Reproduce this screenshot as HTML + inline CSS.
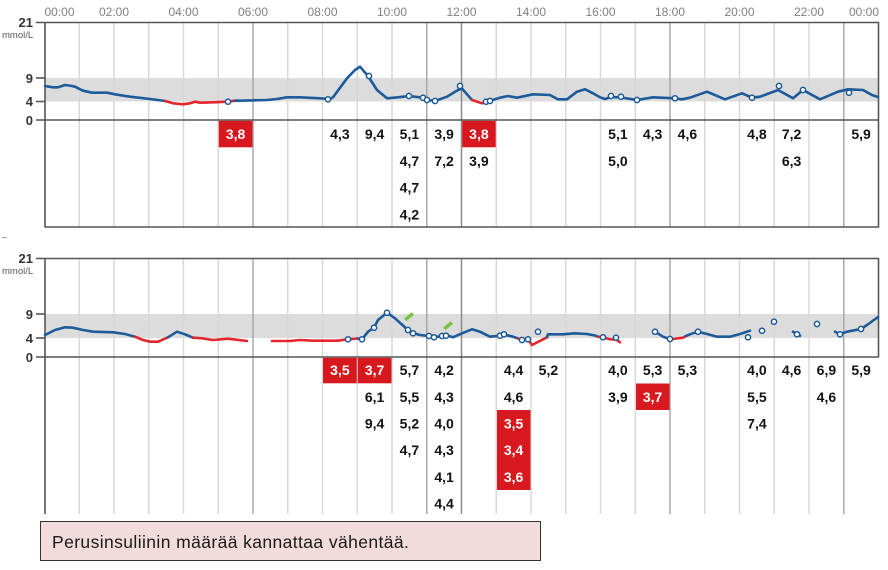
<!DOCTYPE html>
<html>
<head>
<meta charset="utf-8">
<style>
html,body{margin:0;padding:0;background:#fff;}
body{width:888px;height:570px;overflow:hidden;}
svg{display:block;font-family:"Liberation Sans",Arial,sans-serif;}
.t{font-size:12px;fill:#808080;}
.yl{font-size:13px;font-weight:bold;fill:#333;}
.mm{font-size:9.5px;fill:#555;}
.v{font-size:14px;font-weight:bold;fill:#111;text-anchor:middle;}
.vr{font-size:14px;font-weight:bold;fill:#fff;text-anchor:middle;}
.gl{stroke:#d8d8d8;stroke-width:1.5;}
.gd{stroke:#a8a8a8;stroke-width:1.5;}
.ax{stroke:#555;stroke-width:1.6;fill:none;}
.b{fill:none;stroke:#1d5a99;stroke-width:2.6;stroke-linejoin:round;stroke-linecap:round;}
.r{fill:none;stroke:#e3262d;stroke-width:2.6;stroke-linejoin:round;stroke-linecap:round;}
.c{fill:#fff;stroke:#1d5a99;stroke-width:1.5;}
.rb{fill:#d7181f;}
</style>
</head>
<body>
<svg width="888" height="570" viewBox="0 0 888 570" xmlns="http://www.w3.org/2000/svg">
<rect x="0" y="0" width="888" height="570" fill="#fff"/>

<!-- ============ TOP CHART ============ -->
<!-- time labels -->
<text class="t" x="44.5" y="16" text-anchor="start">00:00</text>
<text class="t" x="114" y="16" text-anchor="middle">02:00</text>
<text class="t" x="183.5" y="16" text-anchor="middle">04:00</text>
<text class="t" x="253" y="16" text-anchor="middle">06:00</text>
<text class="t" x="322.5" y="16" text-anchor="middle">08:00</text>
<text class="t" x="392" y="16" text-anchor="middle">10:00</text>
<text class="t" x="461.5" y="16" text-anchor="middle">12:00</text>
<text class="t" x="531" y="16" text-anchor="middle">14:00</text>
<text class="t" x="600.5" y="16" text-anchor="middle">16:00</text>
<text class="t" x="670" y="16" text-anchor="middle">18:00</text>
<text class="t" x="739.5" y="16" text-anchor="middle">20:00</text>
<text class="t" x="809" y="16" text-anchor="middle">22:00</text>
<text class="t" x="879" y="16" text-anchor="end">00:00</text>

<!-- band -->
<rect x="45" y="78" width="833.5" height="23.5" fill="#dcdcdc"/>

<!-- gridlines top -->
<g>
<line class="gl" x1="79.25" y1="22" x2="79.25" y2="227"/>
<line class="gl" x1="114" y1="22" x2="114" y2="227"/>
<line class="gl" x1="148.75" y1="22" x2="148.75" y2="227"/>
<line class="gl" x1="183.5" y1="22" x2="183.5" y2="227"/>
<line class="gl" x1="218.25" y1="22" x2="218.25" y2="227"/>
<line class="gd" x1="253" y1="22" x2="253" y2="227"/>
<line class="gl" x1="287.75" y1="22" x2="287.75" y2="227"/>
<line class="gl" x1="322.5" y1="22" x2="322.5" y2="227"/>
<line class="gl" x1="357.25" y1="22" x2="357.25" y2="227"/>
<line class="gl" x1="392" y1="22" x2="392" y2="227"/>
<line class="gd" x1="426.75" y1="22" x2="426.75" y2="227"/>
<line class="gd" x1="461.5" y1="22" x2="461.5" y2="227" style="stroke:#8a8a8a"/>
<line class="gl" x1="496.25" y1="22" x2="496.25" y2="227"/>
<line class="gl" x1="531" y1="22" x2="531" y2="227"/>
<line class="gl" x1="565.75" y1="22" x2="565.75" y2="227"/>
<line class="gl" x1="600.5" y1="22" x2="600.5" y2="227"/>
<line class="gl" x1="635.25" y1="22" x2="635.25" y2="227"/>
<line class="gd" x1="670" y1="22" x2="670" y2="227"/>
<line class="gl" x1="704.75" y1="22" x2="704.75" y2="227"/>
<line class="gl" x1="739.5" y1="22" x2="739.5" y2="227"/>
<line class="gl" x1="774.25" y1="22" x2="774.25" y2="227"/>
<line class="gl" x1="809" y1="22" x2="809" y2="227"/>
<line class="gd" x1="843.75" y1="22" x2="843.75" y2="227"/>
</g>

<!-- axes/frame top -->
<line class="ax" x1="36" y1="22.5" x2="879" y2="22.5"/>
<line class="ax" x1="45" y1="22" x2="45" y2="227.5"/>
<line class="ax" x1="878.5" y1="22" x2="878.5" y2="227.5"/>
<line class="ax" x1="36" y1="120" x2="879" y2="120"/>
<line class="ax" x1="45" y1="227" x2="879" y2="227"/>
<line class="ax" x1="36" y1="78" x2="45" y2="78"/>
<line class="ax" x1="36" y1="101.5" x2="45" y2="101.5"/>

<text class="yl" x="33" y="27" text-anchor="end">21</text>
<text class="mm" x="2" y="38">mmol/L</text>
<text class="yl" x="33" y="83" text-anchor="end">9</text>
<text class="yl" x="33" y="106" text-anchor="end">4</text>
<text class="yl" x="33" y="125" text-anchor="end">0</text>

<!-- top curve -->
<polyline class="b" points="45,86 53,87.3 58,87.3 65,85 72,86 75,86.7 83,90.7 92,92.7 107,92.7 115,94.3 130,96.7 150,99 165,101"/>
<polyline class="r" points="165,101 173,103.3 183,104.3 190,103.3 195,101.7 200,102.7 213,102.3 228,101.7 235,100.7"/>
<polyline class="b" points="235,100.7 240,100.7 267,100 277,99 287,97.3 300,97.3 320,98.3 330,99 333,97.3 347,78.3 355,70 360,66.7 368,76 377,90 387,98.3 398,97.3 409,96 423,97.7 427,100 435,101 447,96.7 458,90 462,88.5 467,94.3 472,100"/>
<polyline class="r" points="472,100 482,103.3 487,101.7 489,101"/>
<polyline class="b" points="489,101 500,97.7 508,96 517,97.7 533,94.3 550,95 558,99.3 567,99.3 577,91.7 585,89.3 593,93.3 600,97.3 605,99 611,97 621,97.5 637,100 653,97.3 675,98.3 682,99.3 690,97.7 707,91.7 725,99.3 742,93.3 752,97.7 760,96.7 778,90 793,98.3 803,90 820,99.3 838,91.7 848,89.3 863,90 872,95 878,97"/>
<g>
<circle class="c" cx="228" cy="101.7" r="2.6"/>
<circle class="c" cx="328" cy="99.3" r="2.6"/>
<circle class="c" cx="369" cy="76" r="2.6"/>
<circle class="c" cx="409" cy="96" r="2.6"/>
<circle class="c" cx="423" cy="97.7" r="2.6"/>
<circle class="c" cx="427" cy="100" r="2.6"/>
<circle class="c" cx="435" cy="101" r="2.6"/>
<circle class="c" cx="460" cy="86" r="2.6"/>
<circle class="c" cx="486" cy="101.7" r="2.6"/>
<circle class="c" cx="490" cy="101" r="2.6"/>
<circle class="c" cx="611" cy="96" r="2.6"/>
<circle class="c" cx="621" cy="96.7" r="2.6"/>
<circle class="c" cx="637" cy="100" r="2.6"/>
<circle class="c" cx="675" cy="98.3" r="2.6"/>
<circle class="c" cx="752" cy="97.7" r="2.6"/>
<circle class="c" cx="779" cy="86" r="2.6"/>
<circle class="c" cx="803" cy="90" r="2.6"/>
<circle class="c" cx="849" cy="92.7" r="2.6"/>
</g>

<!-- top table -->
<rect class="rb" x="218.75" y="120.8" width="33.75" height="26.5"/>
<rect class="rb" x="462.2" y="120.8" width="33.5" height="26.5"/>
<text class="vr" x="235.6" y="139">3,8</text>
<text class="v" x="339.9" y="139">4,3</text>
<text class="v" x="374.6" y="139">9,4</text>
<text class="v" x="409.4" y="139">5,1</text>
<text class="v" x="409.4" y="166">4,7</text>
<text class="v" x="409.4" y="192.5">4,7</text>
<text class="v" x="409.4" y="219.5">4,2</text>
<text class="v" x="444.1" y="139">3,9</text>
<text class="v" x="444.1" y="166">7,2</text>
<text class="vr" x="478.9" y="139">3,8</text>
<text class="v" x="478.9" y="166">3,9</text>
<text class="v" x="617.9" y="139">5,1</text>
<text class="v" x="617.9" y="166">5,0</text>
<text class="v" x="652.6" y="139">4,3</text>
<text class="v" x="687.4" y="139">4,6</text>
<text class="v" x="756.9" y="139">4,8</text>
<text class="v" x="791.6" y="139">7,2</text>
<text class="v" x="791.6" y="166">6,3</text>
<text class="v" x="861.1" y="139">5,9</text>

<line x1="2" y1="237.5" x2="7" y2="237.5" stroke="#aaa" stroke-width="1.2"/>

<!-- ============ BOTTOM CHART ============ -->
<rect x="45" y="314" width="833.5" height="24" fill="#dcdcdc"/>

<g>
<line class="gl" x1="79.25" y1="258" x2="79.25" y2="514"/>
<line class="gl" x1="114" y1="258" x2="114" y2="514"/>
<line class="gl" x1="148.75" y1="258" x2="148.75" y2="514"/>
<line class="gl" x1="183.5" y1="258" x2="183.5" y2="514"/>
<line class="gl" x1="218.25" y1="258" x2="218.25" y2="514"/>
<line class="gd" x1="253" y1="258" x2="253" y2="514"/>
<line class="gl" x1="287.75" y1="258" x2="287.75" y2="514"/>
<line class="gl" x1="322.5" y1="258" x2="322.5" y2="514"/>
<line class="gl" x1="357.25" y1="258" x2="357.25" y2="514"/>
<line class="gl" x1="392" y1="258" x2="392" y2="514"/>
<line class="gd" x1="426.75" y1="258" x2="426.75" y2="514"/>
<line class="gd" x1="461.5" y1="258" x2="461.5" y2="514" style="stroke:#8a8a8a"/>
<line class="gl" x1="496.25" y1="258" x2="496.25" y2="514"/>
<line class="gl" x1="531" y1="258" x2="531" y2="514"/>
<line class="gl" x1="565.75" y1="258" x2="565.75" y2="514"/>
<line class="gl" x1="600.5" y1="258" x2="600.5" y2="514"/>
<line class="gl" x1="635.25" y1="258" x2="635.25" y2="514"/>
<line class="gd" x1="670" y1="258" x2="670" y2="514"/>
<line class="gl" x1="704.75" y1="258" x2="704.75" y2="514"/>
<line class="gl" x1="739.5" y1="258" x2="739.5" y2="514"/>
<line class="gl" x1="774.25" y1="258" x2="774.25" y2="514"/>
<line class="gl" x1="809" y1="258" x2="809" y2="514"/>
<line class="gd" x1="843.75" y1="258" x2="843.75" y2="514"/>
</g>

<line class="ax" x1="36" y1="258.5" x2="879" y2="258.5"/>
<line class="ax" x1="45" y1="258" x2="45" y2="514"/>
<line class="ax" x1="878.5" y1="258" x2="878.5" y2="357"/>
<line class="ax" x1="36" y1="357" x2="879" y2="357"/>
<line class="ax" x1="36" y1="314" x2="45" y2="314"/>
<line class="ax" x1="36" y1="338" x2="45" y2="338"/>

<text class="yl" x="33" y="263" text-anchor="end">21</text>
<text class="mm" x="2" y="274">mmol/L</text>
<text class="yl" x="33" y="319" text-anchor="end">9</text>
<text class="yl" x="33" y="343" text-anchor="end">4</text>
<text class="yl" x="33" y="362" text-anchor="end">0</text>

<!-- bottom curve -->
<polyline class="b" points="45,335 55,330 65,327.3 73,327.7 83,330 93,331.7 113,332.3 125,334 135,336.7"/>
<polyline class="r" points="135,336.7 143,340 150,341.7 158,341.7 168,337.3"/>
<polyline class="b" points="168,337.3 177,331.7 185,334.3 193,337.7"/>
<polyline class="r" points="193,337.7 202,338.3 213,340 228,338.7 247,341"/>
<polyline class="r" points="272,341 290,341 300,340 313,340.7 337,340.7 348,339.3 358,338.5"/>
<polyline class="b" points="358,338.5 362,339.3 368,331.7 374,327.7 378,320 387,312.7 395,318.3 408,330 413,333 420,335 429,336 434,337.3 442,336 447,335.5 453,337.3 462,333.3 472,329.3 480,331.7 490,336.7 500,335.7 503,334.3 513,336.7 518,338.5"/>
<polyline class="r" points="518,338.5 522,340 528,339.3 532,345 547,337.3"/>
<polyline class="b" points="547,337.3 548,334.3 563,334.3 575,333.3 587,334 595,335.5 598,336.7"/>
<polyline class="r" points="598,336.7 603,337.5 610,339.3 616,339.5 620,342.3"/>
<polyline class="b" points="655,331.7 663,336.7 668,338.5"/>
<polyline class="r" points="668,338.5 673,339 683,337.7 686,336"/>
<polyline class="b" points="686,336 690,334.3 698,331.7 708,334.3 717,336.7 730,336.7 740,334 750,330.7"/>
<polyline class="b" points="793,331.7 800,335.7"/>
<polyline class="b" points="835,331.7 840,334.3 847,331.7 861,329 867,325 878,317"/>
<!-- green pencil icons -->
<g fill="#7ac143">
<rect x="404" y="315" width="10" height="3.5" transform="rotate(-40 409 316.7)"/>
<rect x="443" y="324" width="10" height="3.5" transform="rotate(-40 448 325.7)"/>
</g>
<g>
<circle class="c" cx="348" cy="339.3" r="2.6"/>
<circle class="c" cx="362" cy="339.3" r="2.6"/>
<circle class="c" cx="374" cy="327.7" r="2.6"/>
<circle class="c" cx="387" cy="312.7" r="2.6"/>
<circle class="c" cx="408" cy="330" r="2.6"/>
<circle class="c" cx="413" cy="333.3" r="2.6"/>
<circle class="c" cx="429" cy="336" r="2.6"/>
<circle class="c" cx="434" cy="337.3" r="2.6"/>
<circle class="c" cx="442" cy="336" r="2.6"/>
<circle class="c" cx="446" cy="335.7" r="2.6"/>
<circle class="c" cx="500" cy="335.7" r="2.6"/>
<circle class="c" cx="504" cy="334.3" r="2.6"/>
<circle class="c" cx="522" cy="340" r="2.6"/>
<circle class="c" cx="528" cy="339.3" r="2.6"/>
<circle class="c" cx="538" cy="331.7" r="2.6"/>
<circle class="c" cx="603" cy="337.3" r="2.6"/>
<circle class="c" cx="616" cy="337.7" r="2.6"/>
<circle class="c" cx="655" cy="331.7" r="2.6"/>
<circle class="c" cx="670" cy="339" r="2.6"/>
<circle class="c" cx="698" cy="331.7" r="2.6"/>
<circle class="c" cx="748" cy="337.3" r="2.6"/>
<circle class="c" cx="762" cy="330.7" r="2.6"/>
<circle class="c" cx="774" cy="321.7" r="2.6"/>
<circle class="c" cx="797" cy="334.3" r="2.6"/>
<circle class="c" cx="817" cy="324" r="2.6"/>
<circle class="c" cx="840" cy="334.3" r="2.6"/>
<circle class="c" cx="861" cy="329" r="2.6"/>
</g>

<!-- bottom table -->
<rect class="rb" x="323" y="357.8" width="33.75" height="25.5"/>
<rect class="rb" x="357.75" y="357.8" width="33.75" height="25.5"/>
<rect class="rb" x="497" y="410" width="33.5" height="80"/>
<rect class="rb" x="636" y="383.5" width="33.5" height="26.5"/>

<text class="vr" x="339.9" y="375">3,5</text>
<text class="vr" x="374.6" y="375">3,7</text>
<text class="v" x="374.6" y="402">6,1</text>
<text class="v" x="374.6" y="428.5">9,4</text>
<text class="v" x="409.4" y="375">5,7</text>
<text class="v" x="409.4" y="402">5,5</text>
<text class="v" x="409.4" y="428.5">5,2</text>
<text class="v" x="409.4" y="455">4,7</text>
<text class="v" x="444.1" y="375">4,2</text>
<text class="v" x="444.1" y="402">4,3</text>
<text class="v" x="444.1" y="428.5">4,0</text>
<text class="v" x="444.1" y="455">4,3</text>
<text class="v" x="444.1" y="482">4,1</text>
<text class="v" x="444.1" y="508.5">4,4</text>
<text class="v" x="513.6" y="375">4,4</text>
<text class="v" x="513.6" y="402">4,6</text>
<text class="vr" x="513.6" y="428.5">3,5</text>
<text class="vr" x="513.6" y="455">3,4</text>
<text class="vr" x="513.6" y="482">3,6</text>
<text class="v" x="548.4" y="375">5,2</text>
<text class="v" x="617.9" y="375">4,0</text>
<text class="v" x="617.9" y="402">3,9</text>
<text class="v" x="652.6" y="375">5,3</text>
<text class="vr" x="652.6" y="402">3,7</text>
<text class="v" x="687.4" y="375">5,3</text>
<text class="v" x="756.9" y="375">4,0</text>
<text class="v" x="756.9" y="402">5,5</text>
<text class="v" x="756.9" y="428.5">7,4</text>
<text class="v" x="791.6" y="375">4,6</text>
<text class="v" x="826.4" y="375">6,9</text>
<text class="v" x="826.4" y="402">4,6</text>
<text class="v" x="861.1" y="375">5,9</text>

<!-- note box -->
<rect x="40.5" y="521.5" width="500" height="39" fill="#f2dcdb" stroke="#333" stroke-width="1"/>
<text x="52" y="548" style="font-size:17.5px;letter-spacing:0.4px;fill:#1a1a1a;">Perusinsuliinin määrää kannattaa vähentää.</text>
</svg>
</body>
</html>
